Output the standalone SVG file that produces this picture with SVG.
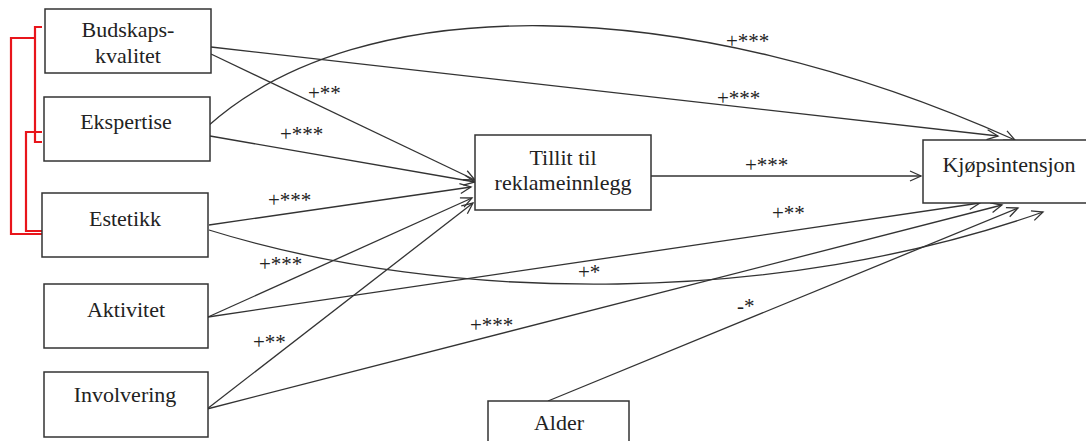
<svg xmlns="http://www.w3.org/2000/svg" width="1086" height="441" viewBox="0 0 1086 441" font-family="'Liberation Serif', serif">
<style>
.box{fill:#fff;stroke:#333;stroke-width:1.5}
text{font-family:'Liberation Serif',serif}
.t{font-size:22px;fill:#222;text-anchor:middle}
.l{font-size:21px;fill:#222}
.c{fill:none;stroke:#333;stroke-width:1.3;marker-end:url(#arr)}
.r{fill:none;stroke:#e8151b;stroke-width:2.2}
</style>
<defs>
<marker id="arr" markerUnits="userSpaceOnUse" markerWidth="14" markerHeight="12" refX="12" refY="6" orient="auto">
<path d="M1,1 L12,6 L1,11" fill="none" stroke="#333" stroke-width="1.3"/>
</marker>
</defs>
<g id="connectors">
<path class="c" d="M211,47 L998,136"/>
<path class="c" d="M211,54 L475,180"/>
<path class="c" d="M208,126 C360,-10 680,-10 1015,140"/>
<path class="c" d="M210,136 L475,182"/>
<path class="c" d="M209,225 L471,187"/>
<path class="c" d="M209,230 C450,305 780,305 1043,212"/>
<path class="c" d="M208,317 L472,198"/>
<path class="c" d="M208,317 L980,203"/>
<path class="c" d="M207,409 L473,203"/>
<path class="c" d="M207,409 L1002,205"/>
<path class="c" d="M548,401 L1018,208"/>
<path class="c" d="M651,176 L921,176"/>
</g>
<g id="labels">
<text class="l" x="308" y="100">+**</text>
<text class="l" x="280" y="141">+***</text>
<text class="l" x="268" y="207">+***</text>
<text class="l" x="259" y="271">+***</text>
<text class="l" x="253" y="349">+**</text>
<text class="l" x="470" y="332">+***</text>
<text class="l" x="726" y="48">+***</text>
<text class="l" x="717" y="105">+***</text>
<text class="l" x="745" y="172">+***</text>
<text class="l" x="772" y="220">+**</text>
<text class="l" x="578" y="279">+*</text>
<text class="l" x="737" y="313">-*</text>
</g>
<g id="correlations">
<path class="r" d="M42,27 L35,27 L35,142 L42,142"/>
<path class="r" d="M35,38 L11,38 L11,234 L43,234"/>
<path class="r" d="M42,132 L26,132 L26,231 L43,231"/>
</g>
<g id="budskapskvalitet">
<rect class="box" x="45" y="9" width="166" height="64"/>
<text class="t" x="128" y="37">Budskaps-</text>
<text class="t" x="128" y="63">kvalitet</text>
</g>
<g id="ekspertise">
<rect class="box" x="44" y="97" width="166" height="64"/>
<text class="t" x="126" y="129">Ekspertise</text>
</g>
<g id="estetikk">
<rect class="box" x="42" y="193" width="166" height="64"/>
<text class="t" x="125" y="226">Estetikk</text>
</g>
<g id="aktivitet">
<rect class="box" x="44" y="284" width="164" height="64"/>
<text class="t" x="126" y="317">Aktivitet</text>
</g>
<g id="involvering">
<rect class="box" x="44" y="372" width="164" height="65"/>
<text class="t" x="125" y="402">Involvering</text>
</g>
<g id="tillit">
<rect class="box" x="475" y="135" width="176" height="75"/>
<text class="t" x="563" y="165">Tillit til</text>
<text class="t" x="563" y="190">reklameinnlegg</text>
</g>
<g id="kjopsintensjon">
<rect class="box" x="923" y="140" width="170" height="63"/>
<text class="t" x="1009" y="172">Kjøpsintensjon</text>
</g>
<g id="alder">
<rect class="box" x="488" y="401" width="141" height="50"/>
<text class="t" x="559" y="430">Alder</text>
</g>
</svg>
